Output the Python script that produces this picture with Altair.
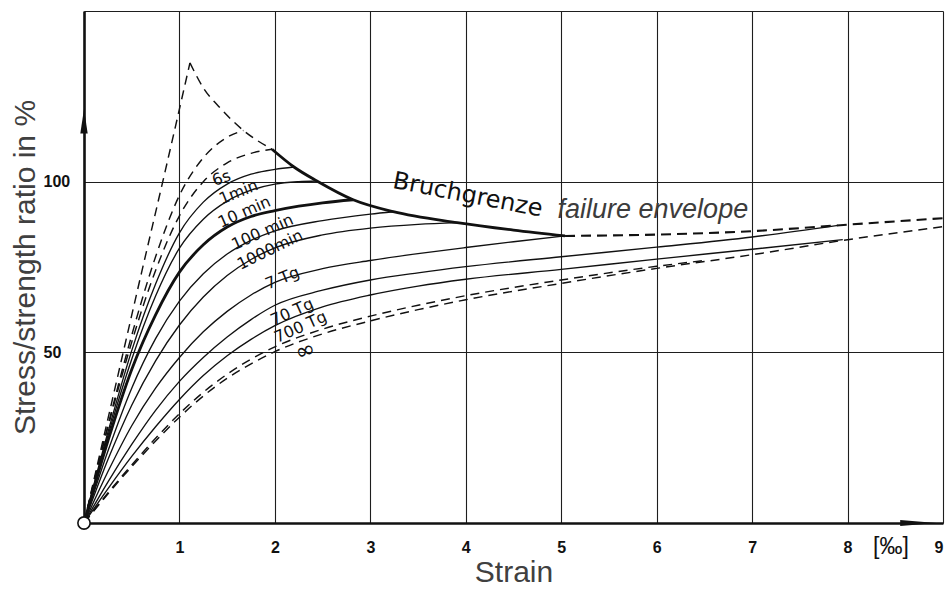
import altair as alt
import pandas as pd

# ---- failure envelope (Bruchgrenze), drawn in four pieces ----
env_rise_x = [0.0, 0.3, 0.6, 0.85, 1.11]
env_rise_y = [0.0, 36.5, 73.0, 103.0, 134.8]
env_fall_x = [1.11, 1.25, 1.43, 1.67, 1.97]
env_fall_y = [134.8, 127.5, 121.5, 115.0, 109.5]
env_solid_x = [1.97, 2.2, 2.44, 2.82, 3.24, 3.91, 4.5, 5.04]
env_solid_y = [109.5, 104.3, 100.2, 94.7, 91.2, 88.0, 85.8, 84.1]
env_tail_x = [5.04, 6.0, 7.0, 8.0, 9.0]
env_tail_y = [84.1, 84.5, 85.5, 87.4, 89.3]

# ---- short-time dashed isochrones ----
dash_a_x = [0.0, 0.25, 0.5, 0.75, 1.0, 1.25, 1.5, 1.67]
dash_a_y = [0.0, 28.5, 55.0, 78.0, 96.0, 107.0, 113.0, 115.0]
dash_b_x = [0.0, 0.25, 0.5, 0.75, 1.0, 1.25, 1.5, 1.75, 1.97]
dash_b_y = [0.0, 28.0, 53.0, 74.0, 90.0, 100.0, 105.5, 108.3, 109.5]

# ---- isochrones (load duration) ----
t6s_x = [0.0, 0.25, 0.5, 0.75, 1.0, 1.25, 1.5, 1.75, 2.0, 2.2]
t6s_y = [0.0, 26.5, 50.5, 70.0, 85.0, 94.0, 99.3, 102.2, 103.6, 104.3]
t1min_x = [0.0, 0.25, 0.5, 0.75, 1.0, 1.25, 1.5, 1.75, 2.0, 2.25, 2.44]
t1min_y = [0.0, 25.5, 48.0, 66.5, 80.5, 89.0, 94.3, 97.5, 99.3, 100.0, 100.2]
t10min_x = [0.0, 0.25, 0.5, 0.75, 1.0, 1.25, 1.5, 1.75, 2.0, 2.25, 2.5, 2.82]
t10min_y = [0.0, 24.0, 45.0, 61.0, 73.5, 81.5, 86.7, 89.8, 91.5, 92.8, 93.8, 94.7]
t100min_x = [0.0, 0.25, 0.5, 0.75, 1.0, 1.25, 1.5, 1.75, 2.0, 2.5, 3.0, 3.24]
t100min_y = [0.0, 21.0, 39.5, 54.0, 65.0, 73.0, 78.8, 82.8, 85.6, 88.6, 90.5, 91.2]
t1000min_x = [0.0, 0.25, 0.5, 0.75, 1.0, 1.25, 1.5, 1.75, 2.0, 2.5, 3.0, 3.5, 3.91]
t1000min_y = [0.0, 18.5, 34.5, 47.5, 58.0, 66.2, 72.5, 77.2, 80.6, 84.4, 86.4, 87.5, 88.0]
t7tg_x = [0.0, 0.25, 0.5, 0.75, 1.0, 1.25, 1.5, 1.75, 2.0, 2.5, 3.0, 3.5, 4.0, 4.5, 5.04]
t7tg_y = [0.0, 15.0, 28.5, 39.5, 48.5, 56.0, 62.0, 66.8, 70.5, 74.5, 76.9, 78.9, 80.7, 82.4, 84.1]
t70tg_x = [0.0, 0.25, 0.5, 0.75, 1.0, 1.25, 1.5, 1.75, 2.0, 2.5, 3.0, 3.5, 4.0, 5.0, 6.0, 7.0, 7.9]
t70tg_y = [0.0, 12.0, 23.0, 33.0, 41.5, 48.5, 54.5, 59.6, 63.8, 68.2, 71.2, 73.3, 75.1, 78.0, 80.8, 83.8, 87.2]
t700tg_x = [0.0, 0.25, 0.5, 0.75, 1.0, 1.25, 1.5, 1.75, 2.0, 2.5, 3.0, 3.5, 4.0, 5.0, 6.0, 7.0, 7.95]
t700tg_y = [0.0, 10.0, 19.5, 28.2, 36.2, 43.2, 49.0, 53.8, 57.8, 63.3, 66.8, 69.4, 71.4, 74.3, 77.3, 80.2, 83.0]
inf_up_x = [0.0, 0.25, 0.5, 0.75, 1.0, 1.25, 1.5, 1.75, 2.0, 2.5, 3.0, 3.5, 4.0, 5.0, 6.0, 6.5]
inf_up_y = [0.0, 8.8, 17.0, 24.8, 32.0, 38.3, 43.6, 48.0, 51.6, 56.8, 60.6, 63.8, 66.6, 71.2, 75.2, 76.9]
inf_lo_x = [0.0, 0.25, 0.5, 0.75, 1.0, 1.25, 1.5, 1.75, 2.0, 2.5, 3.0, 3.5, 4.0, 5.0, 6.0, 7.0, 8.0, 9.0]
inf_lo_y = [0.0, 8.5, 16.5, 24.0, 31.0, 37.2, 42.4, 46.6, 50.2, 55.4, 59.2, 62.5, 65.4, 70.2, 74.6, 78.6, 83.0, 86.8]

# ---- curve labels ----
iso_text = ["6s", "1min", "10 min", "100 min", "1000min", "7 Tg", "70 Tg", "700 Tg", "\u221e"]
iso_x = [1.44, 1.62, 1.68, 1.87, 1.95, 2.08, 2.18, 2.27, 2.32]
iso_y = [101.0, 96.9, 91.1, 85.2, 80.0, 71.7, 61.8, 57.4, 50.3]
iso_rot = [340, 338, 336, 336, 334, 338, 336, 336, 342]
iso_size = [16, 16, 16, 16, 16, 16, 16, 16, 24]

rows = []


def add(name, xs, ys, style):
    for i, (a, b) in enumerate(zip(xs, ys)):
        rows.append({"curve": name, "i": i, "x": a, "y": b, "style": style})


add("env_rise", env_rise_x, env_rise_y, "dash")
add("env_fall", env_fall_x, env_fall_y, "dash")
add("env_solid", env_solid_x, env_solid_y, "thick")
add("env_tail", env_tail_x, env_tail_y, "dashbold")
add("dash_a", dash_a_x, dash_a_y, "dash")
add("dash_b", dash_b_x, dash_b_y, "dash")
add("6s", t6s_x, t6s_y, "thin")
add("1min", t1min_x, t1min_y, "thin")
add("10min", t10min_x, t10min_y, "thick")
add("100min", t100min_x, t100min_y, "thin")
add("1000min", t1000min_x, t1000min_y, "thin")
add("7Tg", t7tg_x, t7tg_y, "thin")
add("70Tg", t70tg_x, t70tg_y, "thin")
add("700Tg", t700tg_x, t700tg_y, "thin")
add("inf_up", inf_up_x, inf_up_y, "dash")
add("inf_lo", inf_lo_x, inf_lo_y, "dash")
curves = pd.DataFrame(rows)

labels = pd.DataFrame(
    {"text": iso_text, "x": iso_x, "y": iso_y, "rot": iso_rot, "fs": iso_size}
)

INK = "#111111"
TITLE_GREY = "#404040"

x_enc = alt.X(
    "x:Q",
    scale=alt.Scale(domain=[0, 9], nice=False, zero=True),
    axis=alt.Axis(
        values=list(range(0, 10)),
        grid=True, gridColor="#1e1e1e", gridWidth=1.1,
        ticks=False, domain=True, domainColor=INK, domainWidth=2.6,
        labelExpr="datum.value == 0 ? '' : datum.label",
        labelFont="Liberation Sans", labelFontWeight="bold", labelFontSize=16,
        labelColor=INK, labelPadding=16,
        title="Strain", titleFont="Liberation Sans", titleFontSize=30,
        titleFontWeight="normal", titleColor=TITLE_GREY, titlePadding=2,
    ),
)
y_enc = alt.Y(
    "y:Q",
    scale=alt.Scale(domain=[0, 150], nice=False, zero=True),
    axis=alt.Axis(
        values=[0, 50, 100, 150],
        grid=True, gridColor="#1e1e1e", gridWidth=1.1,
        ticks=False, domain=True, domainColor=INK, domainWidth=2.6,
        labelExpr="(datum.value == 50 || datum.value == 100) ? datum.label : ''",
        labelFont="Liberation Sans", labelFontWeight="bold", labelFontSize=16,
        labelColor=INK, labelAlign="left", labelPadding=41,
        title="Stress/strength ratio in %", titleFont="Liberation Sans",
        titleFontSize=30, titleFontWeight="normal", titleColor=TITLE_GREY,
        titlePadding=3,
    ),
)

base = alt.Chart(curves)


def curve_layer(style, width, dash=None):
    props = dict(color=INK, strokeWidth=width, interpolate="monotone", strokeCap="butt")
    if dash is not None:
        props["strokeDash"] = dash
    return (
        base.transform_filter(alt.datum.style == style)
        .mark_line(**props)
        .encode(x=x_enc, y=y_enc, detail="curve:N", order="i:Q")
    )


thin = curve_layer("thin", 1.35)
thick = curve_layer("thick", 2.8)
dashed = curve_layer("dash", 1.45, [9, 6])
dashed_bold = curve_layer("dashbold", 2.1, [10, 6])

iso = alt.Chart(labels).mark_text(
    font="DejaVu Sans", color=INK, align="center", baseline="middle"
).encode(
    x=x_enc, y=y_enc, text="text:N",
    angle=alt.Angle("rot:Q", scale=None),
    size=alt.Size("fs:Q", scale=None, legend=None),
)

bruch = alt.Chart(pd.DataFrame({"x": [4.02], "y": [96.0], "t": ["Bruchgrenze"]})).mark_text(
    font="DejaVu Sans", fontSize=24, color=INK, angle=11, align="center", baseline="middle"
).encode(x=x_enc, y=y_enc, text="t:N")

failure = alt.Chart(pd.DataFrame({"x": [5.96], "y": [91.7], "t": ["failure envelope"]})).mark_text(
    font="Liberation Sans", fontSize=27, fontStyle="italic", color="#3c3c3c",
    align="center", baseline="middle"
).encode(x=x_enc, y=y_enc, text="t:N")

permille = alt.Chart(pd.DataFrame({"x": [8.455], "y": [0.0], "t": ["[\u2030]"]})).mark_text(
    font="Liberation Sans", fontSize=23, color=INK,
    align="center", baseline="top", dy=13
).encode(x=x_enc, y=y_enc, text="t:N")

# axis arrows and the origin marker
arrow_up = alt.Chart(pd.DataFrame({"x": [0.0], "y": [117.7]})).mark_point(
    shape="M0,-1L0.3,1L-0.3,1Z", size=600, filled=True, color=INK, opacity=1
).encode(x=x_enc, y=y_enc)
arrow_right = alt.Chart(pd.DataFrame({"x": [8.74], "y": [0.0]})).mark_point(
    shape="M1,0L-1,-0.16L-1,0.16Z", size=1300, filled=True, color=INK, opacity=1
).encode(x=x_enc, y=y_enc)
origin = alt.Chart(pd.DataFrame({"x": [0.0], "y": [0.0]})).mark_point(
    shape="circle", size=150, filled=True, fill="white", stroke=INK, strokeWidth=1.6, opacity=1
).encode(x=x_enc, y=y_enc)

chart = (
    alt.layer(thin, dashed, dashed_bold, thick, iso, bruch, failure, permille,
              arrow_up, arrow_right, origin)
    .properties(
        width=859, height=512,
        autosize=alt.AutoSizeParams(type="none"),
        padding={"left": 84, "top": 11, "right": 2, "bottom": 69},
        background="white",
    )
    .configure_view(stroke=None)
)

chart.save("out.html", embed_options={"renderer": "svg", "actions": False})
